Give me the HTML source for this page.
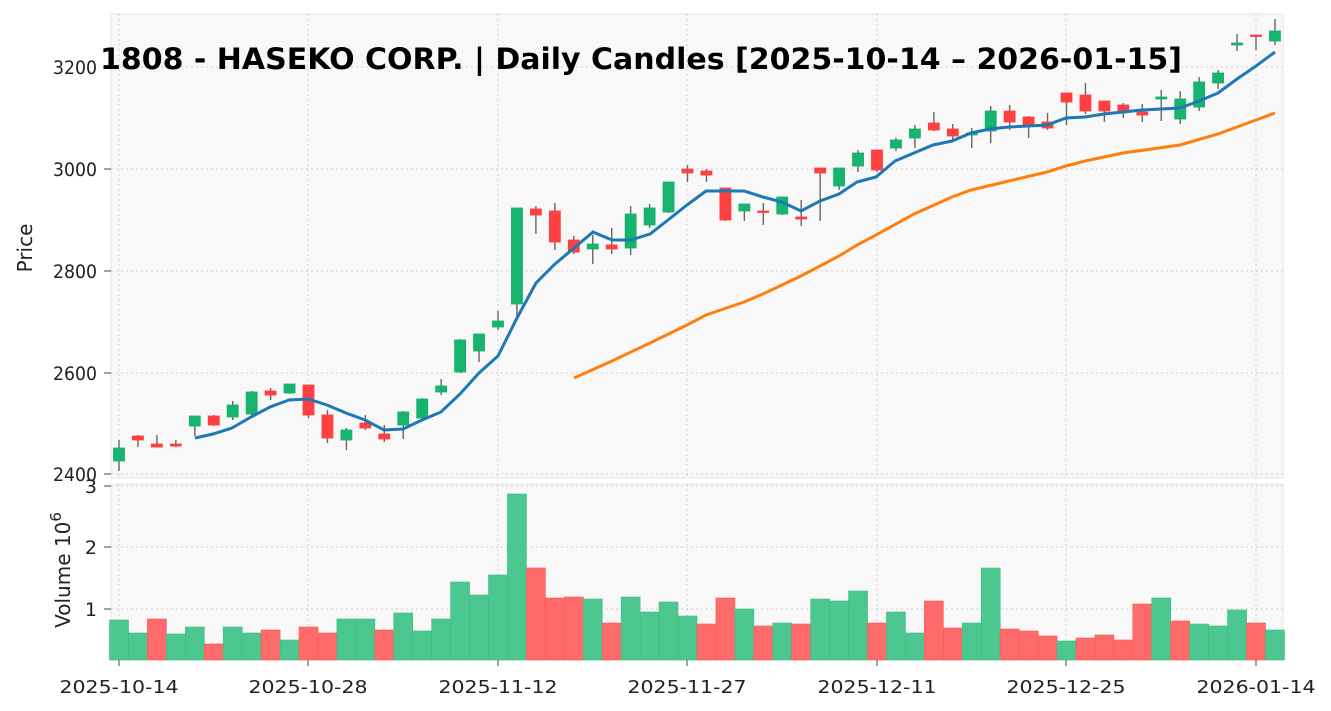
<!DOCTYPE html>
<html><head><meta charset="utf-8"><style>
body{margin:0;background:#fff}
svg{display:block;font-family:"DejaVu Sans","Liberation Sans",sans-serif}
</style></head><body>
<svg id="s" width="1331" height="711" xmlns="http://www.w3.org/2000/svg"></svg>
<script>
const C=[[448,461,440,471,'G'],[436,440,435,447,'R'],[444,447,435,447,'R'],[444,446,440,447,'R'],[416,426,416,436,'G'],[416,425,415,426,'R'],[405,417,401,420,'G'],[392,414,391,415,'G'],[391,395,388,400,'R'],[384,393,384,394,'G'],[385,415,385,418,'R'],[415,438,410,443,'R'],[430,440,428,450,'G'],[423,428,415,430,'R'],[434,439,425,442,'R'],[412,425,411,439,'G'],[399,418,398,419,'G'],[386,392,379,395,'G'],[340,372,339,373,'G'],[334,351,334,362,'G'],[321,327,311,330,'G'],[208,304,208,316,'G'],[209,215,206,234,'R'],[211,242,203,250,'R'],[240,252,236,254,'R'],[244,249,235,264,'G'],[245,249,228,254,'R'],[214,248,206,255,'G'],[208,225,204,228,'G'],[182,212,182,213,'G'],[169,173,165,182,'R'],[171,175,169,182,'R'],[188,220,188,221,'R'],[204,211,204,221,'G'],[211,212,203,225,'R'],[197,214,197,215,'G'],[217,219,200,226,'R'],[168,173,168,221,'R'],[168,186,168,190,'G'],[153,166,150,172,'G'],[150,170,150,172,'R'],[140,148,138,151,'G'],[129,138,125,148,'G'],[123,130,112,131,'R'],[129,136,124,141,'R'],[133,135,128,148,'G'],[111,131,106,143,'G'],[111,122,105,130,'R'],[117,125,116,138,'R'],[122,128,113,130,'R'],[93,102,93,125,'R'],[95,111,83,114,'R'],[101,111,101,122,'R'],[105,112,103,118,'R'],[112,115,104,122,'R'],[97,99,90,121,'G'],[99,119,91,124,'G'],[82,107,77,111,'G'],[73,83,70,89,'G'],[43,45,34,51,'G'],[35,36,35,50,'R'],[31,41,19,45,'G']];
const V=[[620,'G'],[633,'G'],[619,'R'],[634,'G'],[627,'G'],[644,'R'],[627,'G'],[633,'G'],[630,'R'],[640,'G'],[627,'R'],[633,'R'],[619,'G'],[619,'G'],[630,'R'],[613,'G'],[631,'G'],[619,'G'],[582,'G'],[595,'G'],[575,'G'],[494,'G'],[568,'R'],[598,'R'],[597,'R'],[599,'G'],[623,'R'],[597,'G'],[612,'G'],[602,'G'],[616,'G'],[624,'R'],[598,'R'],[609,'G'],[626,'R'],[623,'G'],[624,'R'],[599,'G'],[601,'G'],[591,'G'],[623,'R'],[612,'G'],[633,'G'],[601,'R'],[628,'R'],[623,'G'],[568,'G'],[629,'R'],[631,'R'],[636,'R'],[641,'G'],[638,'R'],[635,'R'],[640,'R'],[604,'R'],[598,'G'],[621,'R'],[624,'G'],[626,'G'],[610,'G'],[623,'R'],[630,'G']];
const B=[[195,438],[213,434],[232,428],[251,417],[270,407],[289,400],[308,399],[327,405],[346,413],[365,420],[384,430],[403,429],[422,420],[441,412],[460,394],[479,373],[498,356],[517,318],[536,283],[555,264],[574,248],[593,232],[612,240],[631,240],[650,234],[668,220],[687,205],[706,191],[725,191],[744,191],[763,197],[782,202],[801,211],[820,201],[839,194],[857,182],[876,177],[895,161],[914,153],[933,145],[952,141],[971,133],[990,129],[1009,127],[1028,126],[1047,125],[1066,118],[1085,117],[1104,114],[1123,112],[1142,110],[1161,109],[1180,108],[1199,101],[1218,93],[1237,79],[1256,66],[1275,52]];
const O=[[574,378],[612,361],[650,343],[687,325],[706,315],[744,302],[763,294],[801,276],[839,256],[857,245],[876,235],[914,214],[952,197],[971,190],[1009,181],[1047,172],[1066,166],[1085,161],[1123,153],[1180,145],[1218,134],[1256,120],[1275,113]];
let h='';
h+='<rect x="111" y="14" width="1172" height="464" fill="#f8f8f8" stroke="#e6e6e6"/>';
h+='<rect x="111" y="484" width="1172" height="176" fill="#f8f8f8" stroke="#e6e6e6"/>';
const g='stroke="#cfcfcf" stroke-dasharray="2,3" stroke-width="1"';
[67,169,271,373,474].forEach(y=>h+=`<line x1="111" x2="1283" y1="${y}" y2="${y}" ${g}/>`);
[486,547,609].forEach(y=>h+=`<line x1="111" x2="1283" y1="${y}" y2="${y}" ${g}/>`);
const xs=[[119,'2025-10-14'],[308,'2025-10-28'],[498,'2025-11-12'],[687,'2025-11-27'],[877,'2025-12-11'],[1066,'2025-12-25'],[1256,'2026-01-14']];
xs.forEach(([x,t])=>{h+=`<line x1="${x}" x2="${x}" y1="14" y2="478" ${g}/><line x1="${x}" x2="${x}" y1="484" y2="660" ${g}/><line x1="${x}" x2="${x}" y1="660" y2="666" stroke="#444"/><text x="${x}" y="693" font-size="18" textLength="119" lengthAdjust="spacingAndGlyphs" text-anchor="middle" fill="#222">${t}</text>`});
V.forEach(([t,c],i)=>{const x=119+i*18.95;h+=`<rect x="${x-9.5}" y="${t}" width="19" height="${660-t}" fill="${c=='G'?'#4cc78f':'#ff6b6b'}" stroke="${c=='G'?'#3dbd83':'#ff5555'}" stroke-width="0.6"/>`});
C.forEach(([t,b,hi,lo,c],i)=>{const x=119+i*18.95;h+=`<line x1="${x}" x2="${x}" y1="${hi}" y2="${lo}" stroke="#666" stroke-width="1.4"/><rect x="${x-5.5}" y="${t}" width="11" height="${Math.max(b-t,1.5)}" fill="${c=='G'?'#16b46e':'#ff4040'}" stroke="${c=='G'?'#12b066':'#ff3a3a'}" stroke-width="0.8"/>`});
h+=`<polyline points="${O.map(p=>p.join(',')).join(' ')}" fill="none" stroke="#ff7f0e" stroke-width="3"/>`;
h+=`<polyline points="${B.map(p=>p.join(',')).join(' ')}" fill="none" stroke="#1f77b4" stroke-width="3"/>`;
[[67,'3200'],[169,'3000'],[271,'2800'],[373,'2600'],[474,'2400']].forEach(([y,t])=>h+=`<line x1="104" x2="111" y1="${y}" y2="${y}" stroke="#444"/><text x="97" y="${y+7}" font-size="19" textLength="44" lengthAdjust="spacingAndGlyphs" text-anchor="end" fill="#222">${t}</text>`);
[[486,'3'],[547,'2'],[609,'1']].forEach(([y,t])=>h+=`<line x1="104" x2="111" y1="${y}" y2="${y}" stroke="#444"/><text x="97" y="${y+7}" font-size="19" text-anchor="end" fill="#222">${t}</text>`);
h+='<text transform="translate(32,248) rotate(-90)" font-size="20" text-anchor="middle" fill="#222">Price</text>';
h+='<text transform="translate(70,570) rotate(-90)" font-size="20" text-anchor="middle" fill="#222">Volume  10<tspan dy="-9" font-size="15">6</tspan></text>';
h+='<text x="641" y="69" font-size="29" font-weight="bold" textLength="1082" lengthAdjust="spacingAndGlyphs" text-anchor="middle" fill="#000">1808 - HASEKO CORP. | Daily Candles [2025-10-14 – 2026-01-15]</text>';
document.getElementById('s').innerHTML=h;
</script>
</body></html>
